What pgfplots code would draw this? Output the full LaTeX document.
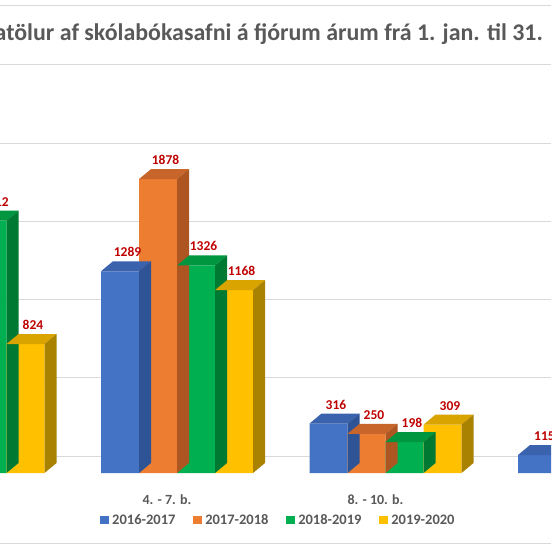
\documentclass[border=0pt]{standalone}
\usepackage{pgfplots}
\pgfplotsset{compat=1.18}
\usepackage{pgfplotstable}
\usepackage{fontspec}
\setmainfont{Carlito}
\definecolor{cblue}{HTML}{4472C4}
\definecolor{cblueT}{HTML}{3A62AD}
\definecolor{cblueS}{HTML}{2F5496}
\definecolor{corange}{HTML}{ED7D31}
\definecolor{corangeT}{HTML}{C8652A}
\definecolor{corangeS}{HTML}{AD5621}
\definecolor{cgreen}{HTML}{00B050}
\definecolor{cgreenT}{HTML}{00963F}
\definecolor{cgreenS}{HTML}{007A33}
\definecolor{cyellow}{HTML}{FFC000}
\definecolor{cyellowT}{HTML}{D9A400}
\definecolor{cyellowS}{HTML}{A88200}
\definecolor{labred}{HTML}{C00000}
\definecolor{txtgray}{HTML}{595959}
\definecolor{gridgray}{HTML}{D9D9D9}

\pgfplotstableread{
x a b c d
0 1350 1800 1612 824
1 1289 1878 1326 1168
2 316 250 198 309
3 115 120 100 110
}\data

% top face of a 3D column (drawn at the bar's top centre)
\pgfdeclareplotmark{top3d}{%
  \pgfpathmoveto{\pgfqpoint{-19pt}{0pt}}%
  \pgfpathlineto{\pgfqpoint{19pt}{0pt}}%
  \pgfpathlineto{\pgfqpoint{31pt}{10pt}}%
  \pgfpathlineto{\pgfqpoint{-7pt}{10pt}}%
  \pgfpathclose
  \pgfusepathqfill
}
% side face of a 3D column; its height follows the value
\pgfdeclareplotmark{side3d}{%
  \pgfkeys{/pgf/fpu=true,/pgf/fpu/output format=fixed}%
  \pgfmathparse{\rawy*0.1565}%
  \pgfkeys{/pgf/fpu=false}%
  \let\hh\pgfmathresult
  \pgfpathmoveto{\pgfqpoint{19pt}{0pt}}%
  \pgfpathlineto{\pgfqpoint{31pt}{10pt}}%
  \pgfpathlineto{\pgfpoint{31pt}{10pt-\hh pt}}%
  \pgfpathlineto{\pgfpoint{19pt}{-\hh pt}}%
  \pgfpathclose
  \pgfusepathqfill
}

\pgfplotsset{
  front/.style n args={3}{ybar, bar width=38pt, bar shift=#1, fill=#2, draw=none,
    nodes near coords,
    every node near coord/.append style={anchor=base, inner sep=0pt, xshift=#3, yshift=14.5pt,
      text=labred, font=\bfseries\fontsize{13.5}{15}\selectfont}},
  topf/.style n args={2}{only marks, mark=top3d, color=#2, mark options={xshift=#1, fill=#2, draw=none}, forget plot},
  sidef/.style n args={2}{only marks, mark=side3d, color=#2, mark options={xshift=#1, fill=#2, draw=none}, forget plot,
    visualization depends on={y \as \rawy}},
}

\begin{document}
\begin{tikzpicture}
\useasboundingbox (0,0) rectangle (551pt,-551pt);
\fill[white] (0,0) rectangle (551pt,-551pt);
\clip (0,0) rectangle (551pt,-551pt);
\draw[gridgray, line width=0.9pt] (0,-5pt) -- (551pt,-5pt);
\draw[gridgray, line width=0.9pt] (0,-543pt) -- (551pt,-543pt);
\node[anchor=base east, inner sep=0pt, text=txtgray, font=\bfseries\fontsize{23.9}{28}\selectfont]
  at (543pt,-41pt) {Útlánatölur af skólabókasafni á fjórum árum frá 1. jan. til 31.};
\begin{axis}[
  at={(-135.75pt,-473pt)}, anchor=south west,
  x=208.5pt, y=0.1565pt,
  xmin=-0.5, xmax=3.5, ymin=0, ymax=3000,
  clip=false,
  axis line style={draw=none},
  major tick length=0pt,
  ytick={0,500,...,2500}, yticklabels={},
  ymajorgrids,
  major grid style={draw=gridgray, line width=0.9pt, yshift=17pt},
  xtick={0,1,2,3},
  xticklabels={1. - 3. b., 4. - 7. b., 8. - 10. b., Annað},
  xticklabel style={anchor=base, inner sep=0pt, yshift=-31pt, xshift=-10pt,
    font=\bfseries\fontsize{14}{16}\selectfont, text=txtgray},
  /pgf/number format/.cd, 1000 sep={}, assume math mode=true, /pgfplots/.cd,
  legend style={at={(0.2827,-0.1001)}, anchor=west, draw=none, fill=none, inner sep=0pt,
    nodes={inner sep=0pt, text=txtgray}, font=\bfseries\fontsize{14.5}{16}\selectfont},
  legend columns=4,
  legend cell align=left,
  legend style={/tikz/every odd column/.append style={column sep=3.5pt},
                /tikz/every even column/.append style={column sep=17.8pt}},
  legend image code/.code={\fill[#1] (0pt,-4.25pt) rectangle (8.5pt,4.25pt);},
]
\addplot[front={-57pt}{cblue}{-49.5pt}] table[x=x,y=a]{\data};
\addplot[topf={-57pt}{cblueT}] table[x=x,y=a]{\data};
\addplot[sidef={-57pt}{cblueS}] table[x=x,y=a]{\data};
\addplot[front={-19pt}{corange}{-11.5pt}] table[x=x,y=b]{\data};
\addplot[topf={-19pt}{corangeT}] table[x=x,y=b]{\data};
\addplot[sidef={-19pt}{corangeS}] table[x=x,y=b]{\data};
\addplot[front={19pt}{cgreen}{26.5pt}] table[x=x,y=c]{\data};
\addplot[topf={19pt}{cgreenT}] table[x=x,y=c]{\data};
\addplot[sidef={19pt}{cgreenS}] table[x=x,y=c]{\data};
\addplot[front={57pt}{cyellow}{64.5pt}] table[x=x,y=d]{\data};
\addplot[topf={57pt}{cyellowT}] table[x=x,y=d]{\data};
\addplot[sidef={57pt}{cyellowS}] table[x=x,y=d]{\data};
\legend{2016-2017,2017-2018,2018-2019,2019-2020}
\end{axis}
\end{tikzpicture}
\end{document}
